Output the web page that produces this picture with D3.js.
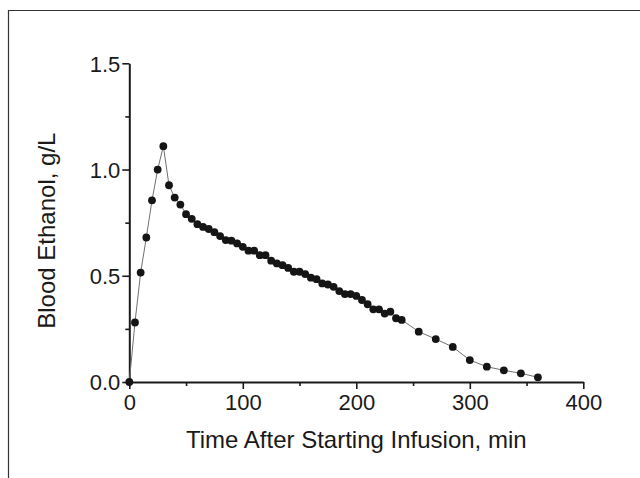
<!DOCTYPE html>
<html>
<head>
<meta charset="utf-8">
<script src="https://cdn.jsdelivr.net/npm/d3@7"></script>
<style>
  html, body { margin: 0; padding: 0; background: #ffffff; }
  svg { display: block; }
  text { font-family: "Liberation Sans", Arial, sans-serif; fill: #1a1a1a; }
</style>
</head>
<body>
<svg id="chart" width="640" height="478"></svg>
<script>
const timesMin = [0, 5, 10, 15, 20, 25, 30, 35, 40, 45, 50, 55, 60, 65, 70, 75, 80, 85, 90, 95,
  100, 105, 110, 115, 120, 125, 130, 135, 140, 145, 150, 155, 160, 165, 170, 175, 180, 185, 190, 195,
  200, 205, 210, 215, 220, 225, 230, 235, 240, 255, 270, 285, 300, 315, 330, 345, 360];
const ethanolGL = [0.0, 0.28, 0.515, 0.68, 0.855, 1.0, 1.11, 0.926, 0.868, 0.835, 0.79, 0.768, 0.743, 0.73, 0.72, 0.705, 0.687, 0.668, 0.665, 0.652,
  0.636, 0.618, 0.618, 0.597, 0.597, 0.571, 0.558, 0.55, 0.537, 0.519, 0.519, 0.508, 0.491, 0.484, 0.464, 0.459, 0.448, 0.428, 0.414, 0.414,
  0.405, 0.386, 0.366, 0.342, 0.342, 0.322, 0.331, 0.30, 0.292, 0.237, 0.202, 0.165, 0.103, 0.072, 0.055, 0.041, 0.022];
const xMajorTicks = [0, 100, 200, 300, 400];
const xMinorTicks = [50, 150, 250, 350];
const yMajorTicks = [0.0, 0.5, 1.0, 1.5];
const yMinorTicks = [0.25, 0.75, 1.25];
const xTitle = "Time After Starting Infusion, min";
const yTitle = "Blood Ethanol, g/L";

const svg = d3.select("#chart");
const padLeft = 129.3, padRight = 583.3, padTop = 63.3, padBottom = 382;

const x = d3.scaleLinear().domain([0, 400]).range([padLeft, padRight]);
const y = d3.scaleLinear().domain([0, 1.5]).range([padBottom, padTop]);

// outer frame (top and left edges)
svg.append("path")
  .attr("d", "M8.5,478 L8.5,10.5 L640,10.5")
  .attr("fill", "none").attr("stroke", "#333").attr("stroke-width", 1.2);

// X axis
const gx = svg.append("g").attr("transform", `translate(0,${padBottom})`);
gx.call(d3.axisBottom(x).tickValues(xMajorTicks).tickSize(7).tickSizeOuter(0).tickFormat(d3.format("d")));
gx.append("g").call(d3.axisBottom(x).tickValues(xMinorTicks).tickSize(4).tickSizeOuter(0).tickFormat(""))
  .select(".domain").remove();

// Y axis
const gy = svg.append("g").attr("transform", `translate(${padLeft},0)`);
gy.call(d3.axisLeft(y).tickValues(yMajorTicks).tickSize(7).tickSizeOuter(0).tickFormat(d3.format(".1f")));
gy.append("g").call(d3.axisLeft(y).tickValues(yMinorTicks).tickSize(4).tickSizeOuter(0).tickFormat(""))
  .select(".domain").remove();

svg.selectAll(".domain").attr("stroke", "#1a1a1a").attr("stroke-width", 2);
svg.selectAll(".tick line").attr("stroke", "#1a1a1a").attr("stroke-width", 1.6);
gx.selectAll(".tick text").attr("font-size", 22).attr("y", 10).attr("dy", "0.82em").attr("fill", "#1a1a1a")
  .style("font-family", "'Liberation Sans', Arial, sans-serif");
gy.selectAll(".tick text").attr("font-size", 22).attr("dy", "0.35em").attr("x", -9).attr("fill", "#1a1a1a")
  .style("font-family", "'Liberation Sans', Arial, sans-serif");

// Axis titles
svg.append("text").attr("x", (padLeft + padRight) / 2).attr("y", 448)
  .attr("text-anchor", "middle").attr("font-size", 24).text(xTitle);
svg.append("text").attr("transform", `translate(55,${(padTop + padBottom) / 2 + 8}) rotate(-90)`)
  .attr("text-anchor", "middle").attr("font-size", 24).text(yTitle);

// Data
const data = timesMin.map((t, i) => ({ t, v: ethanolGL[i] }));
svg.append("path").datum(data)
  .attr("fill", "none").attr("stroke", "#707070").attr("stroke-width", 1)
  .attr("d", d3.line().x(d => x(d.t)).y(d => y(d.v)));
svg.append("g").selectAll("circle").data(data).join("circle")
  .attr("cx", d => x(d.t)).attr("cy", d => y(d.v)).attr("r", 3.9).attr("fill", "#151515");
</script>
</body>
</html>
